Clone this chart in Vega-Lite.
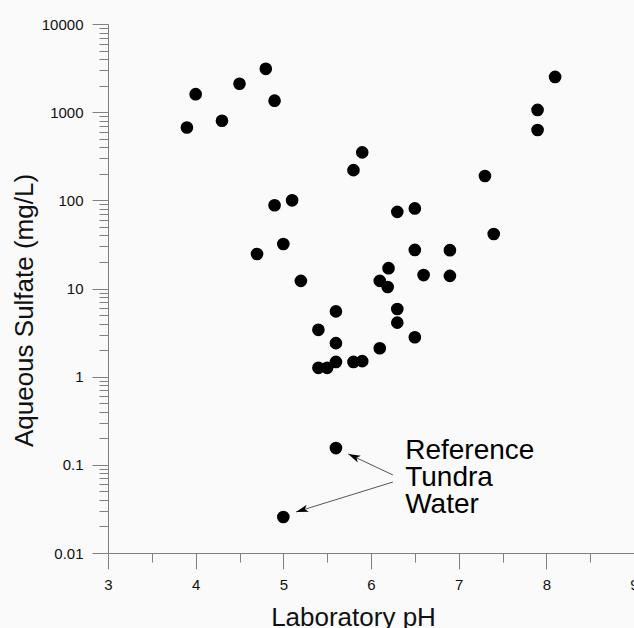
{
  "$schema": "https://vega.github.io/schema/vega-lite/v6.json",
  "width": 526,
  "height": 529,
  "autosize": {"type": "none"},
  "padding": {"left": 108, "top": 24, "right": 0, "bottom": 75},
  "background": "#fafafa",
  "config": {"view": {"stroke": null}, "font": "Liberation Sans"},
  "datasets": {
    "points": [
      {"pH": 3.9, "sulfate": 670},
      {"pH": 4.0, "sulfate": 1600},
      {"pH": 4.3, "sulfate": 800},
      {"pH": 4.5, "sulfate": 2100},
      {"pH": 4.8, "sulfate": 3100},
      {"pH": 4.9, "sulfate": 1350},
      {"pH": 4.9, "sulfate": 88},
      {"pH": 5.1, "sulfate": 100},
      {"pH": 5.0, "sulfate": 32},
      {"pH": 4.7, "sulfate": 24.6},
      {"pH": 5.2, "sulfate": 12.2},
      {"pH": 5.8, "sulfate": 220},
      {"pH": 5.9, "sulfate": 350},
      {"pH": 5.4, "sulfate": 3.4},
      {"pH": 5.6, "sulfate": 5.5},
      {"pH": 5.6, "sulfate": 2.4},
      {"pH": 5.4, "sulfate": 1.26},
      {"pH": 5.5, "sulfate": 1.26},
      {"pH": 5.6, "sulfate": 1.47},
      {"pH": 5.8, "sulfate": 1.47},
      {"pH": 5.9, "sulfate": 1.5},
      {"pH": 6.1, "sulfate": 2.1},
      {"pH": 6.1, "sulfate": 12.2},
      {"pH": 6.19, "sulfate": 10.4},
      {"pH": 6.2, "sulfate": 17},
      {"pH": 6.3, "sulfate": 74},
      {"pH": 6.5, "sulfate": 81},
      {"pH": 6.5, "sulfate": 27.4},
      {"pH": 6.9, "sulfate": 27.2},
      {"pH": 6.6, "sulfate": 14.2},
      {"pH": 6.9, "sulfate": 13.9},
      {"pH": 6.3, "sulfate": 5.86},
      {"pH": 6.3, "sulfate": 4.1},
      {"pH": 6.5, "sulfate": 2.8},
      {"pH": 7.3, "sulfate": 189},
      {"pH": 7.4, "sulfate": 41.5},
      {"pH": 7.9, "sulfate": 1060},
      {"pH": 7.9, "sulfate": 628},
      {"pH": 8.1, "sulfate": 2510},
      {"pH": 5.6, "sulfate": 0.155},
      {"pH": 5.0, "sulfate": 0.0256}
    ],
    "arrows": [
      {"x": 6.25, "y": 0.0767, "x2": 5.74, "y2": 0.133, "angle": 295},
      {"x": 6.25, "y": 0.0638, "x2": 5.145, "y2": 0.0292, "angle": 252.8}
    ],
    "labels": [
      {"x": 6.39, "y": 0.1156, "text": "Reference"},
      {"x": 6.39, "y": 0.0575, "text": "Tundra"},
      {"x": 6.39, "y": 0.0282, "text": "Water"}
    ]
  },
  "layer": [
    {
      "data": {"name": "points"},
      "mark": {"type": "circle", "size": 160, "color": "black", "opacity": 1},
      "encoding": {
        "x": {
          "field": "pH", "type": "quantitative",
          "scale": {"domain": [3, 9], "nice": false, "zero": false},
          "axis": {
            "orient": "bottom",
            "title": "Laboratory pH",
            "values": [3, 4, 5, 6, 7, 8, 9],
            "grid": false,
            "domainColor": "#808080",
            "tickColor": "#808080",
            "tickSize": 16,
            "labelFontSize": 15,
            "labelColor": "#111",
            "labelPadding": 8,
            "labelFlush": false,
            "labelOverlap": false,
            "titleFontSize": 26,
            "titleFontWeight": "normal",
            "titleColor": "#111",
            "titleAnchor": null,
            "titleAlign": "center",
            "titleBaseline": "alphabetic",
            "titleX": 245,
            "titleY": 72
          }
        },
        "y": {
          "field": "sulfate", "type": "quantitative",
          "scale": {"type": "log", "domain": [0.01, 10000], "nice": false},
          "axis": {
            "orient": "left",
            "title": "Aqueous Sulfate (mg/L)",
            "values": [0.01, 0.1, 1, 10, 100, 1000, 10000],
            "format": "~g",
            "grid": false,
            "domainColor": "#808080",
            "tickColor": "#808080",
            "tickSize": 16,
            "labelFontSize": 15,
            "labelColor": "#111",
            "labelPadding": 9,
            "labelFlush": false,
            "labelOverlap": false,
            "titleFontSize": 26,
            "titleFontWeight": "normal",
            "titleColor": "#111",
            "titleAnchor": null,
            "titleAngle": -90,
            "titleAlign": "center",
            "titleBaseline": "alphabetic",
            "titleX": -76,
            "titleY": 286
          }
        }
      }
    },
    {
      "data": {"name": "arrows"},
      "mark": {"type": "rule", "color": "#555", "strokeWidth": 1},
      "encoding": {
        "x": {"field": "x", "type": "quantitative", "axis": null},
        "y": {"field": "y", "type": "quantitative", "axis": null},
        "x2": {"field": "x2"},
        "y2": {"field": "y2"}
      }
    },
    {
      "data": {"name": "arrows"},
      "mark": {"type": "point", "shape": "M0,0 L0.6,2 L0,1.5 L-0.6,2 Z", "size": 150, "filled": true, "color": "black", "opacity": 1},
      "encoding": {
        "x": {"field": "x2", "type": "quantitative", "axis": null},
        "y": {"field": "y2", "type": "quantitative", "axis": null},
        "angle": {"field": "angle", "type": "quantitative", "scale": null}
      }
    },
    {
      "data": {"name": "labels"},
      "mark": {"type": "text", "align": "left", "baseline": "alphabetic", "fontSize": 28, "color": "black"},
      "encoding": {
        "x": {
          "field": "x", "type": "quantitative",
          "axis": {
            "orient": "bottom",
            "title": null,
            "values": [3.5, 4.5, 5.5, 6.5, 7.5, 8.5],
            "labels": false,
            "domain": false,
            "grid": false,
            "tickColor": "#808080",
            "tickSize": 9
          }
        },
        "y": {
          "field": "y", "type": "quantitative",
          "axis": {
            "orient": "left",
            "title": null,
            "values": [0.02, 0.03, 0.04, 0.05, 0.06, 0.07, 0.08, 0.09, 0.2, 0.3, 0.4, 0.5, 0.6, 0.7, 0.8, 0.9, 2, 3, 4, 5, 6, 7, 8, 9, 20, 30, 40, 50, 60, 70, 80, 90, 200, 300, 400, 500, 600, 700, 800, 900, 2000, 3000, 4000, 5000, 6000, 7000, 8000, 9000],
            "labels": false,
            "domain": false,
            "grid": false,
            "tickColor": "#808080",
            "tickSize": 9
          }
        },
        "text": {"field": "text"}
      }
    }
  ],
  "resolve": {"axis": {"x": "independent", "y": "independent"}}
}
